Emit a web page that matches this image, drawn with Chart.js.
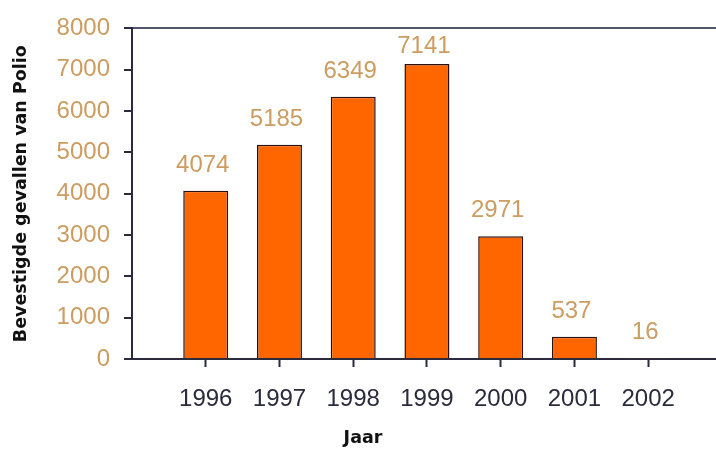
<!DOCTYPE html>
<html>
<head>
<meta charset="utf-8">
<script src="https://cdn.jsdelivr.net/npm/chart.js@4/dist/chart.umd.min.js"></script>
<style>
  html, body { margin: 0; padding: 0; background: #ffffff; }
  #wrap { width: 716px; height: 449px; position: relative; }
</style>
</head>
<body>
<div id="wrap"><canvas id="c" width="716" height="449"></canvas></div>
<script>
// ---- data ----
const years = [1996, 1997, 1998, 1999, 2000, 2001, 2002];
const cases = [4074, 5185, 6349, 7141, 2971, 537, 16];
const yTickValues = [0, 1000, 2000, 3000, 4000, 5000, 6000, 7000, 8000];
const yTitle = 'Bevestigde gevallen van Polio';
const xTitle = 'Jaar';

const tanColor = '#cc9c60';
const axisColor = '#2b2b3d';

const valueLabels = {
  id: 'valueLabels',
  afterDatasetsDraw(chart) {
    const ctx = chart.ctx;
    const meta = chart.getDatasetMeta(0);
    ctx.save();
    ctx.font = '24px "Liberation Sans", Arial, sans-serif';
    ctx.fillStyle = tanColor;
    ctx.textAlign = 'center';
    ctx.textBaseline = 'alphabetic';
    meta.data.forEach((bar, i) => {
      const y = Math.max(bar.y - 19, chart.chartArea.top + 25);
      ctx.fillText(String(cases[i]), bar.x - 3, y);
    });
    ctx.restore();
  }
};

new Chart(document.getElementById('c'), {
  type: 'bar',
  data: {
    datasets: [{
      data: years.map((y, i) => ({ x: y, y: cases[i] })),
      backgroundColor: '#ff6600',
      borderColor: '#2a1010',
      borderWidth: 1.5,
      categoryPercentage: 1,
      barPercentage: 0.61
    }]
  },
  options: {
    responsive: false,
    devicePixelRatio: 1,
    animation: false,
    layout: { padding: { top: 27, right: 0, bottom: 0, left: 10 } },
    plugins: {
      legend: { display: false },
      tooltip: { enabled: false },
      title: {
        display: true,
        position: 'bottom',
        text: xTitle,
        color: '#111111',
        font: { family: '"DejaVu Sans", sans-serif', size: 17.5, weight: 'bold' },
        padding: { top: 20, bottom: 0 }
      }
    },
    scales: {
      x: {
        type: 'linear',
        min: 1995,
        max: 2002.92,
        offset: false,
        afterBuildTicks(scale) { scale.ticks = years.map(v => ({ value: v })); },
        afterFit(scale) { scale.height = 49; },
        ticks: {
          color: axisColor,
          font: { family: '"Liberation Sans", Arial, sans-serif', size: 24 },
          padding: 18,
          maxRotation: 0,
          autoSkip: false,
          callback: v => String(v)
        },
        grid: { drawOnChartArea: false, offset: false, tickLength: 8, tickColor: axisColor, tickWidth: 2 },
        border: { display: true, color: axisColor, width: 2 }
      },
      y: {
        min: 0,
        max: 8000,
        afterBuildTicks(scale) { scale.ticks = yTickValues.map(v => ({ value: v })); },
        afterFit(scale) { scale.width = 122; },
        ticks: {
          color: tanColor,
          font: { family: '"Liberation Sans", Arial, sans-serif', size: 24 },
          padding: 14,
          callback: v => String(v)
        },
        grid: {
          drawOnChartArea: true,
          tickLength: 8,
          tickColor: axisColor,
          tickWidth: 2,
          lineWidth: 2,
          color: c => (c.tick && c.tick.value === 8000) ? '#545468' : 'rgba(0,0,0,0)'
        },
        border: { display: true, color: axisColor, width: 2 },
        title: {
          display: true,
          text: yTitle,
          color: '#111111',
          font: { family: '"DejaVu Sans", sans-serif', size: 17.5, weight: 'bold' },
          padding: { top: 1, bottom: 0 }
        }
      }
    }
  },
  plugins: [valueLabels]
});
</script>
</body>
</html>
